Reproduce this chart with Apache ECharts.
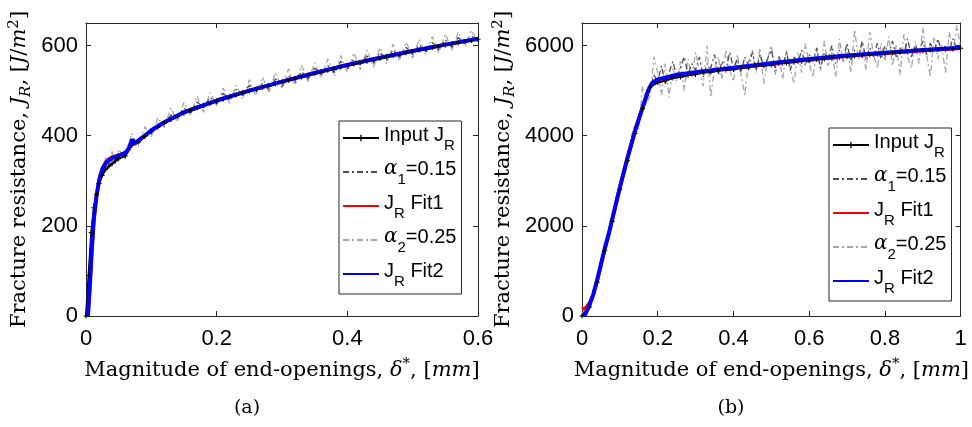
<!DOCTYPE html>
<html>
<head>
<meta charset="utf-8">
<script src="https://cdn.jsdelivr.net/npm/echarts@6/dist/echarts.min.js"></script>
<style>
  html, body { margin: 0; padding: 0; background: #fff; }
  #main { width: 972px; height: 427px; }
</style>
</head>
<body>
<div id="main"></div>
<script>
// ---- panel (a) ----
const xNoiseA = [0, 0.004, 0.008, 0.012, 0.016, 0.02, 0.025, 0.03, 0.035, 0.04, 0.045, 0.05,
  0.06, 0.07, 0.08, 0.09, 0.1, 0.11, 0.12, 0.13, 0.14, 0.15, 0.16, 0.17, 0.18, 0.19, 0.2,
  0.21, 0.22, 0.23, 0.24, 0.25, 0.26, 0.27, 0.28, 0.29, 0.3, 0.31, 0.32, 0.33, 0.34, 0.35,
  0.36, 0.37, 0.38, 0.39, 0.4, 0.41, 0.42, 0.43, 0.44, 0.45, 0.46, 0.47, 0.48, 0.49, 0.5,
  0.51, 0.52, 0.53, 0.54, 0.55, 0.56, 0.57, 0.58, 0.59, 0.6];
const inputA = [0, 90, 185, 240, 270, 294, 312, 325, 332, 338, 344, 349,
  355, 378, 386, 398, 409, 419, 428, 436, 443, 450, 456, 462, 467, 472, 477,
  481, 486, 490, 495, 499, 503, 507, 511, 515, 519, 523, 527, 530, 534, 538,
  541, 545, 548, 552, 555, 559, 562, 565, 568, 571, 575, 578, 581, 584, 587,
  590, 592, 595, 598, 601, 603, 606, 609, 611, 614];
const alpha1A = [0, 85, 175, 235, 258, 308, 316, 342, 338, 354, 348, 361,
  358, 388, 380, 404, 408, 426, 424, 446, 441, 461, 451, 475, 462, 485, 470,
  494, 479, 503, 489, 512, 496, 516, 502, 526, 509, 534, 518, 542, 526, 550,
  535, 556, 540, 565, 548, 570, 556, 577, 561, 585, 567, 590, 574, 596, 580,
  601, 587, 607, 590, 613, 596, 618, 603, 621, 610];
const alpha2A = [0, 100, 145, 250, 250, 318, 308, 352, 330, 365, 342, 370,
  348, 405, 376, 420, 398, 440, 418, 462, 430, 474, 444, 488, 452, 496, 466,
  506, 472, 512, 481, 524, 488, 530, 497, 540, 505, 548, 512, 556, 520, 562,
  528, 570, 532, 578, 541, 584, 546, 590, 552, 596, 560, 603, 566, 608, 572,
  614, 580, 620, 584, 626, 590, 630, 598, 634, 606];
const fitXA = [0.003, 0.006, 0.009, 0.012, 0.016, 0.02, 0.025, 0.03, 0.035, 0.04, 0.05, 0.06,
  0.065, 0.068, 0.071, 0.074, 0.08, 0.09, 0.1, 0.12, 0.15, 0.2, 0.25, 0.3, 0.35, 0.4,
  0.45, 0.5, 0.55, 0.6];
const fit1A = [0, 71, 151, 216, 266, 302, 328, 341, 348, 353, 357, 362,
  369, 380, 390, 382, 389, 400, 412, 430, 452, 478, 500, 520, 539, 557,
  573, 588, 602, 615];
const fit2A = [0, 70, 150, 215, 265, 300, 325, 338, 345, 350, 356, 362,
  370, 382, 392, 382, 389, 400, 412, 430, 452, 478, 500, 520, 539, 557,
  573, 588, 602, 615];

// ---- panel (b) ----
const xNoiseB = [0, 0.01, 0.02, 0.03, 0.04, 0.05, 0.06, 0.07, 0.08, 0.09,
  0.1, 0.11, 0.12, 0.13, 0.14, 0.15, 0.16, 0.17, 0.18, 0.19,
  0.2, 0.21, 0.22, 0.23, 0.24, 0.25, 0.26, 0.27, 0.28, 0.29,
  0.3, 0.31, 0.32, 0.33, 0.34, 0.35, 0.36, 0.37, 0.38, 0.39,
  0.4, 0.41, 0.42, 0.43, 0.44, 0.45, 0.46, 0.47, 0.48, 0.49,
  0.5, 0.51, 0.52, 0.53, 0.54, 0.55, 0.56, 0.57, 0.58, 0.59,
  0.6, 0.61, 0.62, 0.63, 0.64, 0.65, 0.66, 0.67, 0.68, 0.69,
  0.7, 0.71, 0.72, 0.73, 0.74, 0.75, 0.76, 0.77, 0.78, 0.79,
  0.8, 0.81, 0.82, 0.83, 0.84, 0.85, 0.86, 0.87, 0.88, 0.89,
  0.9, 0.91, 0.92, 0.93, 0.94, 0.95, 0.96, 0.97, 0.98, 0.99, 1];
const alpha1B = [0, 100, 260, 520, 780, 1200, 1480, 1850, 2120, 2560,
  2830, 3220, 3470, 3850, 4080, 4420, 4600, 4900, 5050, 5350,
  5200, 5550, 5150, 5400, 5650, 5300, 5500, 5750, 5350, 5600,
  5450, 5750, 5300, 5600, 5500, 5800, 5350, 5650, 5450, 5850,
  5500, 5700, 5400, 5750, 5550, 5850, 5450, 5800, 5550, 5700,
  5900, 5500, 5750, 5550, 5850, 5450, 5750, 5600, 5900, 5550,
  5800, 5650, 5950, 5500, 5850, 5700, 6000, 5600, 5900, 5700,
  6050, 5650, 5900, 5750, 6100, 5700, 5950, 5750, 6050, 5700,
  6000, 5800, 6100, 5750, 5950, 5800, 6150, 5750, 6000, 5850,
  6100, 5800, 6050, 5850, 6150, 5850, 6000, 5900, 6150, 5900, 6000];
const alpha2B = [0, 200, 150, 600, 700, 1250, 1400, 1950, 2050, 2650,
  2700, 3300, 3350, 4000, 4250, 4150, 5100, 4700, 4900, 5750,
  5400, 4900, 5600, 4850, 5500, 5200, 5650, 5000, 5700, 5300,
  5850, 5450, 5100, 6000, 4850, 5500, 5750, 5250, 5900, 5450,
  5200, 5800, 5350, 4900, 5650, 5900, 5400, 5950, 5150, 5700,
  6000, 5350, 5750, 5250, 5900, 5500, 5150, 5850, 5400, 6050,
  5600, 5300, 5900, 5450, 6100, 5550, 5850, 5300, 6150, 5600,
  5950, 5400, 6350, 5700, 6000, 5450, 6300, 5800, 5500, 6050,
  5650, 6200, 5550, 6000, 5350, 6250, 5750, 5500, 6100, 5600,
  6400, 5800, 5300, 6200, 5700, 6000, 5400, 6300, 5850, 6450, 5950];
const xInputB = [0, 0.02, 0.04, 0.06, 0.08, 0.1, 0.12, 0.14, 0.16, 0.18,
  0.2, 0.22, 0.24, 0.26, 0.28, 0.3, 0.32, 0.34, 0.36, 0.38,
  0.4, 0.42, 0.44, 0.46, 0.48, 0.5, 0.52, 0.54, 0.56, 0.58,
  0.6, 0.62, 0.64, 0.66, 0.68, 0.7, 0.72, 0.74, 0.76, 0.78,
  0.8, 0.82, 0.84, 0.86, 0.88, 0.9, 0.92, 0.94, 0.96, 0.98, 1];
const inputB = [0, 200, 750, 1450, 2100, 2800, 3450, 4050, 4600, 5080,
  5180, 5220, 5280, 5300, 5340, 5360, 5400, 5410, 5440, 5460,
  5470, 5500, 5510, 5540, 5550, 5570, 5600, 5610, 5630, 5650,
  5660, 5690, 5700, 5720, 5740, 5750, 5770, 5780, 5800, 5810,
  5820, 5840, 5850, 5860, 5880, 5880, 5900, 5910, 5920, 5930, 5940];
const fit1XB = [0, 0.01, 0.02, 0.03, 0.04, 0.05, 0.06, 0.07, 0.08, 0.1, 0.12, 0.14, 0.16,
  0.175, 0.185, 0.2, 0.25, 0.3, 0.4, 0.5, 0.6, 0.7, 0.8, 0.9, 1];
const fit1B = [150, 180, 290, 480, 780, 1120, 1470, 1790, 2150, 2860, 3520, 4120, 4640,
  5010, 5170, 5240, 5340, 5400, 5500, 5600, 5690, 5770, 5830, 5890, 5940];
const fit2XB = [0.005, 0.01, 0.02, 0.03, 0.04, 0.05, 0.06, 0.07, 0.08, 0.1, 0.12, 0.14, 0.16,
  0.175, 0.185, 0.2, 0.25, 0.3, 0.4, 0.5, 0.6, 0.7, 0.8, 0.9, 1];
const fit2B = [0, 60, 250, 480, 800, 1150, 1500, 1800, 2150, 2850, 3500, 4100, 4620,
  5000, 5170, 5250, 5350, 5410, 5510, 5610, 5700, 5780, 5840, 5900, 5950];

const legendKeys = ['input', 'alpha1', 'fit1', 'alpha2', 'fit2'];
const legendLabels = {
  input: '{n|Input J}{s|R}',
  alpha1: '{a|α}{s|1}{n|=0.15}',
  fit1: '{n|J}{s|R}{n| Fit1}',
  alpha2: '{a|α}{s|2}{n|=0.25}',
  fit2: '{n|J}{s|R}{n| Fit2}'
};

const sans = 'Liberation Sans, Arial, sans-serif';
const serif = 'DejaVu Serif, serif';
const axisColor = '#262626';

const zip = (xs, ys) => xs.map((x, i) => [x, ys[i]]);

// sub/superscripts: every token has the same total height, padding moves the glyphs
const nameStyle = {
  color: '#000',
  fontFamily: serif,
  fontSize: 21,
  rich: {
    t: { fontFamily: serif, fontSize: 21, lineHeight: 22, padding: [4, 0, 6, 0], color: '#000' },
    i: { fontFamily: serif, fontSize: 21, lineHeight: 22, padding: [4, 0, 6, 0], fontStyle: 'italic', color: '#000' },
    sub: { fontFamily: serif, fontSize: 15, lineHeight: 14, padding: [14, 0, 4, 0], fontStyle: 'italic', color: '#000' },
    sup: { fontFamily: serif, fontSize: 15, lineHeight: 14, padding: [2, 0, 16, 0], color: '#000' }
  }
};
const yName = '{t|Fracture resistance, }{i|J}{sub|R}{t|, [}{i|J}{t|/}{i|m}{sup|2}{t|]}';
const xName = '{t|Magnitude of end-openings, }{i|δ}{sup|*}{t|, [}{i|mm}{t|]}';

function xAxes(grid, max) {
  return [{
    type: 'value', gridIndex: grid, min: 0, max: max, interval: 0.2,
    axisLine: { show: true, onZero: false, lineStyle: { color: axisColor } },
    axisTick: { show: true, inside: true, length: 5, lineStyle: { color: axisColor } },
    axisLabel: { color: '#000', fontFamily: sans, fontSize: 22, margin: 12, formatter: v => String(v) },
    splitLine: { show: false },
    name: xName, nameLocation: 'middle', nameGap: 38, nameTextStyle: nameStyle
  }, {
    type: 'value', gridIndex: grid, min: 0, max: max, interval: 0.2, position: 'top',
    axisLine: { show: true, onZero: false, lineStyle: { color: axisColor } },
    axisTick: { show: true, inside: true, length: 5, lineStyle: { color: axisColor } },
    axisLabel: { show: false },
    splitLine: { show: false }
  }];
}

function yAxes(grid, max, step, gap) {
  return [{
    type: 'value', gridIndex: grid, min: 0, max: max, interval: step,
    axisLine: { show: true, onZero: false, lineStyle: { color: axisColor } },
    axisTick: { show: true, inside: true, length: 5, lineStyle: { color: axisColor } },
    axisLabel: { color: '#000', fontFamily: sans, fontSize: 22, margin: 8, showMaxLabel: false, formatter: v => String(v) },
    splitLine: { show: false },
    name: yName, nameLocation: 'middle', nameGap: gap, nameTextStyle: nameStyle
  }, {
    type: 'value', gridIndex: grid, min: 0, max: max, interval: step, position: 'right',
    axisLine: { show: true, onZero: false, lineStyle: { color: axisColor } },
    axisTick: { show: true, inside: true, length: 5, lineStyle: { color: axisColor } },
    axisLabel: { show: false },
    splitLine: { show: false }
  }];
}

const plusPath = 'path://M4,0H6V4H10V6H6V10H4V6H0V4H4Z';

function panelSeries(axis, d) {
  const base = { type: 'line', xAxisIndex: axis, yAxisIndex: axis, animation: false, silent: true };
  return [
    Object.assign({}, base, {
      name: 'alpha2', data: d.alpha2, symbol: 'none',
      itemStyle: { color: '#a6a6a6' },
      lineStyle: { color: '#a6a6a6', width: 1.3, type: [6, 3, 2, 3] }
    }),
    Object.assign({}, base, {
      name: 'alpha1', data: d.alpha1, symbol: 'none',
      itemStyle: { color: '#4d4d4d' },
      lineStyle: { color: '#4d4d4d', width: 1.3, type: [6, 3, 2, 3] }
    }),
    Object.assign({}, base, {
      name: 'input', data: d.input, symbol: plusPath, symbolSize: 5, showSymbol: true,
      itemStyle: { color: '#000' },
      lineStyle: { color: '#000', width: 2 }
    }),
    Object.assign({}, base, {
      name: 'fit1', data: d.fit1, symbol: 'none',
      itemStyle: { color: '#ff0000' },
      lineStyle: { color: '#ff0000', width: 3.5 }
    }),
    Object.assign({}, base, {
      name: 'fit2', data: d.fit2, symbol: 'none',
      itemStyle: { color: '#0000ff' },
      lineStyle: { color: '#0000ff', width: 4 }
    })
  ];
}

function legendAt(left, top) {
  return {
    left: left, top: top, orient: 'vertical',
    itemWidth: 36, itemHeight: 8, itemGap: 4,
    padding: [2, 5, 5, 3],
    backgroundColor: '#fff', borderColor: axisColor, borderWidth: 1, borderRadius: 0,
    selectedMode: false,
    itemStyle: { opacity: 0 },
    data: legendKeys.map(k => (k === 'input' ? { name: k, itemStyle: { opacity: 1 } } : { name: k })),
    formatter: n => legendLabels[n],
    textStyle: {
      color: '#000', fontFamily: sans, fontSize: 20,
      rich: {
        n: { fontFamily: sans, fontSize: 20, lineHeight: 20, padding: [2, 0, 8, 0], color: '#000' },
        a: { fontFamily: serif, fontStyle: 'italic', fontSize: 20, lineHeight: 20, padding: [2, 0, 8, 0], color: '#000' },
        s: { fontFamily: sans, fontSize: 15, lineHeight: 15, padding: [15, 0, 0, 0], color: '#000' }
      }
    }
  };
}

const chart = echarts.init(document.getElementById('main'), null, { renderer: 'canvas' });

chart.setOption({
  backgroundColor: '#fff',
  animation: false,
  grid: [
    { left: 86, top: 23, width: 392, height: 293, show: false },
    { left: 582, top: 23, width: 381, height: 293, show: false }
  ],
  xAxis: xAxes(0, 0.6).concat(xAxes(1, 1)),
  yAxis: yAxes(0, 650, 200, 50).concat(yAxes(1, 6500, 2000, 62)),
  legend: [legendAt(339, 121), legendAt(829, 128)],
  graphic: [
    { type: 'text', x: 247, y: 408, style: { text: '(a)', fontFamily: serif, fontSize: 19, fill: '#000', align: 'center', verticalAlign: 'middle' } },
    { type: 'text', x: 731, y: 408, style: { text: '(b)', fontFamily: serif, fontSize: 19, fill: '#000', align: 'center', verticalAlign: 'middle' } }
  ],
  series: panelSeries(0, {
    alpha2: zip(xNoiseA, alpha2A),
    alpha1: zip(xNoiseA, alpha1A),
    input: zip(xNoiseA, inputA),
    fit1: zip(fitXA, fit1A),
    fit2: zip(fitXA, fit2A)
  }).concat(panelSeries(2, {
    alpha2: zip(xNoiseB, alpha2B),
    alpha1: zip(xNoiseB, alpha1B),
    input: zip(xInputB, inputB),
    fit1: zip(fit1XB, fit1B),
    fit2: zip(fit2XB, fit2B)
  }))
});
</script>
</body>
</html>
